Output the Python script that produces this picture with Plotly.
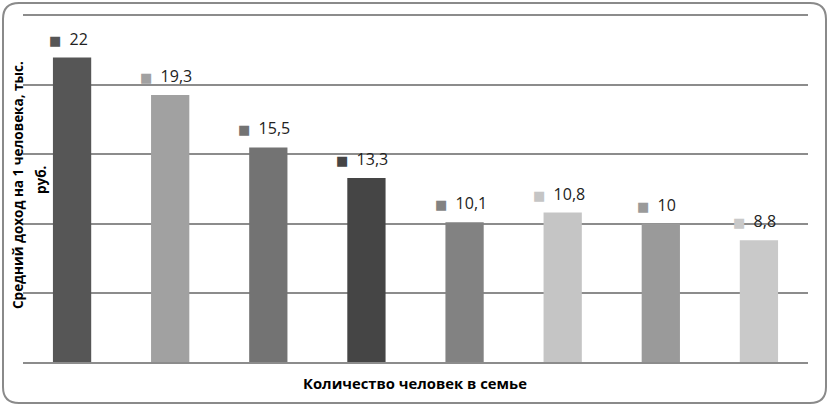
import plotly.graph_objects as go

categories = ["1", "2", "3", "4", "5", "6", "7", "8"]
values = [22, 19.3, 15.5, 13.3, 10.1, 10.8, 10, 8.8]
value_labels = ["22", "19,3", "15,5", "13,3", "10,1", "10,8", "10", "8,8"]
bar_colors = ["#565656", "#a1a1a1", "#737373", "#454545", "#828282", "#c5c5c5", "#9a9a9a", "#c9c9c9"]
y_title_lines = ["Средний доход на 1 человека, тыс.", "руб."]
x_title = "Количество человек в семье"

W, H = 828, 406
L, R, T, B = 23, 20, 16, 44
pw, ph = W - L - R, H - T - B

def px(x):
    return (x - L) / pw

def py(y):
    return (H - B - y) / ph

idx = list(range(len(categories)))

fig = go.Figure()
fig.add_trace(go.Bar(
    x=idx, y=values, marker=dict(color=bar_colors, line=dict(width=0)),
    width=0.39, hoverinfo="skip", showlegend=False,
))

FONT = "Open Sans, Noto Sans, DejaVu Sans, sans-serif"
for i, v, lab, col in zip(idx, values, value_labels, bar_colors):
    fig.add_annotation(
        x=i, y=v, xref="x", yref="y",
        text=f"<span style='color:{col};font-size:13px'>■</span>  {lab}",
        showarrow=False, yanchor="middle", xanchor="center",
        yshift=19, xshift=-4,
        font=dict(family=FONT, size=16, color="#222222"),
    )

# y-axis title, two lines
fig.add_annotation(
    x=px(18), y=py(185), xref="paper", yref="paper", text=f"<b>{y_title_lines[0]}</b>",
    textangle=-90, showarrow=False, xanchor="center", yanchor="middle",
    font=dict(family=FONT, size=13.5, color="#000000"),
)
fig.add_annotation(
    x=px(41), y=py(180), xref="paper", yref="paper", text=f"<b>{y_title_lines[1]}</b>",
    textangle=-90, showarrow=False, xanchor="center", yanchor="middle",
    font=dict(family=FONT, size=13.5, color="#000000"),
)
fig.add_annotation(
    x=px(415), y=py(383), xref="paper", yref="paper", text=f"<b>{x_title}</b>",
    showarrow=False, xanchor="center", yanchor="middle",
    font=dict(family=FONT, size=14.8, color="#000000"),
)

# rounded border
x0, x1, y0, y1, r = px(3), px(826), py(403), py(3), 16
rx, ry = r / pw, r / ph
path = (f"M {x0+rx},{y1} L {x1-rx},{y1} Q {x1},{y1} {x1},{y1-ry} "
        f"L {x1},{y0+ry} Q {x1},{y0} {x1-rx},{y0} L {x0+rx},{y0} "
        f"Q {x0},{y0} {x0},{y0+ry} L {x0},{y1-ry} Q {x0},{y1} {x0+rx},{y1} Z")
fig.add_shape(type="path", path=path, xref="paper", yref="paper",
              line=dict(color="#8a8a8a", width=2), layer="below")

fig.update_layout(
    width=W, height=H, margin=dict(l=L, r=R, t=T, b=B),
    paper_bgcolor="white", plot_bgcolor="white",
    xaxis=dict(range=[-0.5, len(categories) - 0.5], showticklabels=False, showgrid=False,
               zeroline=False, ticks="", showline=True, mirror=True,
               linecolor="#8c8c8c", linewidth=2),
    yaxis=dict(range=[0, 25], dtick=5, showticklabels=False, showgrid=True,
               gridcolor="#8c8c8c", gridwidth=2, zeroline=False, ticks="", showline=False),
)
fig.write_html("out.html", config={"displayModeBar": False},
               post_script="document.body.style.margin='0';document.body.style.overflow='hidden';")
